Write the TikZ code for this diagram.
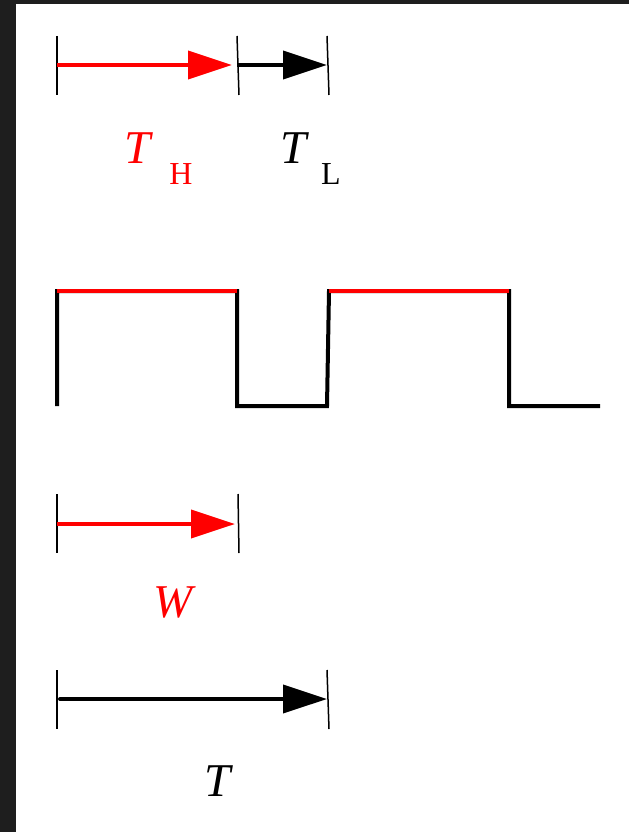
\documentclass[tikz,border=0pt]{standalone}
\usepackage{fontspec}
\setmainfont{Liberation Serif}
\usetikzlibrary{arrows.meta,positioning}
\definecolor{frame}{RGB}{30,30,30}

\tikzset{
  limit/.style={line width=1.5pt},
  spanarrow/.style={line width=4pt,-{Triangle[length=44pt,width=28pt]}},
  level/.style={line width=4pt},
  symbol/.style={font=\fontsize{47}{50}\selectfont\itshape, anchor=base, inner sep=0pt},
  subscr/.style={font=\fontsize{32}{34}\selectfont, anchor=base, inner sep=0pt},
}

\begin{document}
\begin{tikzpicture}[x=1pt, y=-1pt]

	% frame
	\fill[frame] (0,0) rectangle (629,832);
	\fill[white] (16,4) rectangle (629,832);

	% T_H and T_L
	\draw[limit] (57,36) -- (57,95);
	\draw[limit] (237,36) -- (239,95);
	\draw[limit] (327,36) -- (329,95);
	\coordinate (h0) at (57,65);
	\coordinate (h1) at (232,65);
	\coordinate (l0) at (237,65);
	\coordinate (l1) at (327,65);
	\draw[spanarrow, red] (h0) -- (h1);
	\draw[spanarrow] (l0) -- (l1);

	\node[symbol, red] (TH) at (138,163) {T};
	\node[subscr, red] (THsub) at (181,184) {H};
	\node[symbol] (TL) at (294,163) {T};
	\node[subscr] (TLsub) at (331,184) {L};

	% waveform
	\draw[level] (57,406) -- (57,291) -- (237,291) -- (237,406) -- (327,406)
		-- (329,291) -- (509,291) -- (509,406) -- (600,406);
	\draw[level, red] (57,291) -- (237,291);
	\draw[level, red] (329,291) -- (509,291);

	% W
	\draw[limit] (57,494) -- (57,553);
	\draw[limit] (238,494) -- (239,553);
	\coordinate (w0) at (57,524);
	\coordinate (w1) at (235,524);
	\draw[spanarrow, red] (w0) -- (w1);
	\node[symbol, red] (W) at (173,617) {W};

	% T
	\draw[limit] (57,670) -- (57,729);
	\draw[limit] (327,670) -- (329,729);
	\coordinate (t0) at (60,699);
	\coordinate (t1) at (327,699);
	\draw[spanarrow, line cap=round] (t0) -- (t1);
	\node[symbol] (T) at (218,796) {T};

\end{tikzpicture}
\end{document}
